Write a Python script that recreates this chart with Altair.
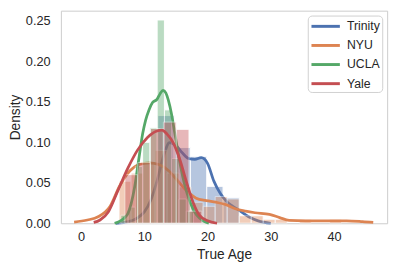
import altair as alt
import pandas as pd

groups = ["Trinity", "NYU", "UCLA", "Yale"]
colors = ["#4C72B0", "#DD8452", "#55A868", "#C44E52"]

# Histogram bins (start, end, density)
trinity_start = [12.13, 14.71, 17.29, 19.87, 22.45]
trinity_end = [14.71, 17.29, 19.87, 22.45, 25.03]
trinity_dens = [0.133, 0.0935, 0.0826, 0.0456, 0.0314]

nyu_start = [6.0, 7.9, 9.8, 11.7, 13.6, 15.5, 17.4, 19.3, 21.2, 23.1, 25.0, 26.9, 28.8, 30.7, 34.5, 39.3]
nyu_end = [7.9, 9.8, 11.7, 13.6, 15.5, 17.4, 19.3, 21.2, 23.1, 25.0, 26.9, 28.8, 30.7, 32.6, 36.4, 41.2]
nyu_dens = [0.052, 0.062, 0.075, 0.09, 0.062, 0.045, 0.026, 0.021, 0.033, 0.030, 0.0093, 0.0093, 0.005, 0.005, 0.005, 0.005]

ucla_start = [6.28, 7.43, 8.58, 9.73, 10.88, 12.03, 13.18, 14.33, 15.48, 16.63]
ucla_end = [7.43, 8.58, 9.73, 10.88, 12.03, 13.18, 14.33, 15.48, 16.63, 17.78]
ucla_dens = [0.01, 0.02, 0.07, 0.10, 0.118, 0.251, 0.14, 0.08, 0.03, 0.015]

yale_start = [6.92, 8.95, 10.98, 13.01, 15.04, 17.07]
yale_end = [8.95, 10.98, 13.01, 15.04, 17.07, 19.10]
yale_dens = [0.06, 0.075, 0.117, 0.125, 0.116, 0.015]

# KDE curves
trinity_kx = [5.5, 7.5, 9.0, 10.0, 11.0, 12.0, 13.0, 14.0, 15.0, 16.0, 17.0, 18.0, 19.0, 20.0, 21.0, 22.0, 23.0, 24.0, 25.0, 26.5, 28.0, 30.0]
trinity_ky = [0.000, 0.002, 0.007, 0.014, 0.028, 0.052, 0.082, 0.0995, 0.096, 0.087, 0.080, 0.079, 0.081, 0.074, 0.052, 0.037, 0.027, 0.021, 0.016, 0.008, 0.003, 0.000]

nyu_kx = [-1.1, 1.0, 2.7, 4.6, 6.1, 7.7, 9.2, 10.8, 12.3, 13.9, 15.1, 16.7, 18.2, 19.8, 21.3, 22.9, 24.4, 26.0, 27.5, 29.8, 31.4, 32.9, 35.5, 39.0, 42.0, 44.5, 46.2]
nyu_ky = [0.0015, 0.004, 0.008, 0.021, 0.046, 0.0645, 0.0726, 0.0746, 0.0726, 0.0645, 0.054, 0.040, 0.031, 0.028, 0.026, 0.023, 0.018, 0.015, 0.013, 0.011, 0.007, 0.0036, 0.003, 0.003, 0.003, 0.002, 0.001]

ucla_kx = [5.3, 6.9, 7.4, 8.5, 9.2, 9.75, 10.2, 10.74, 11.3, 12.0, 12.5, 12.96, 13.4, 13.8, 14.3, 14.8, 15.3, 15.8, 16.3, 16.8, 17.3, 17.8, 18.3, 19.3, 20.2]
ucla_ky = [0.000, 0.007, 0.012, 0.046, 0.083, 0.111, 0.127, 0.140, 0.149, 0.153, 0.160, 0.164, 0.161, 0.152, 0.135, 0.112, 0.089, 0.068, 0.050, 0.036, 0.025, 0.016, 0.010, 0.003, 0.000]

yale_kx = [2.0, 3.0, 4.3, 5.8, 7.4, 8.9, 10.5, 12.0, 12.8, 13.6, 14.6, 15.6, 16.7, 17.7, 18.7, 20.0, 21.5]
yale_ky = [0.001, 0.004, 0.014, 0.040, 0.068, 0.090, 0.106, 0.114, 0.115, 0.110, 0.099, 0.079, 0.050, 0.026, 0.010, 0.003, 0.000]

hist_sets = [(trinity_start, trinity_end, trinity_dens), (nyu_start, nyu_end, nyu_dens),
             (ucla_start, ucla_end, ucla_dens), (yale_start, yale_end, yale_dens)]
kde_sets = [(trinity_kx, trinity_ky), (nyu_kx, nyu_ky), (ucla_kx, ucla_ky), (yale_kx, yale_ky)]

xscale = alt.Scale(domain=[-3.19, 48.4], nice=False, zero=False)
yscale = alt.Scale(domain=[0, 0.2625], nice=False)
xaxis = alt.Axis(values=[0, 10, 20, 30, 40], title="True Age", labelPadding=8, titlePadding=4)
yaxis = alt.Axis(values=[0, 0.05, 0.10, 0.15, 0.20, 0.25], format=".2f", title="Density",
                 labelPadding=11, titlePadding=3)
cscale = alt.Scale(domain=groups, range=colors)

layers = []
for g, c, (s, e, d), (kx, ky) in zip(groups, colors, hist_sets, kde_sets):
    hdf = pd.DataFrame({"start": s, "end": e, "density": d, "group": g})
    kdf = pd.DataFrame({"x": kx, "y": ky, "group": g})
    bars = alt.Chart(hdf).mark_rect(fill=c, opacity=0.4, stroke="white", strokeWidth=1).encode(
        x=alt.X("start:Q", scale=xscale, axis=xaxis),
        x2="end:Q",
        y=alt.Y("density:Q", scale=yscale, axis=yaxis),
        y2=alt.datum(0),
    )
    line = alt.Chart(kdf).mark_line(strokeWidth=2.8, interpolate="monotone").encode(
        x=alt.X("x:Q", scale=xscale, axis=xaxis),
        y=alt.Y("y:Q", scale=yscale, axis=yaxis),
        color=alt.Color("group:N", scale=cscale, sort=groups,
                        legend=alt.Legend(title=None, orient="top-right")),
    )
    layers += [bars, line]

chart = alt.layer(*layers).properties(
    width=333, height=217,
    autosize=alt.AutoSizeParams(type="none"),
    padding={"left": 54, "top": 0, "right": 7, "bottom": 46},
).configure_view(
    stroke="#cccccc", strokeWidth=1
).configure_axis(
    ticks=False, domain=False, grid=False,
    labelFont="Liberation Sans", titleFont="Liberation Sans",
    labelFontSize=13, titleFontSize=14, titleFontWeight="normal",
    labelColor="#262626", titleColor="#262626",
).configure_legend(
    labelFont="Liberation Sans", labelFontSize=12.5, labelColor="#262626",
    symbolType="M-1,0H3", symbolStrokeWidth=3, symbolSize=210,
    strokeColor="#d0d0d0", fillColor="white", cornerRadius=4,
    padding=2, offset=5, rowPadding=3.5, columnPadding=0, labelOffset=20,
)

chart.save("out.html", embed_options={"renderer": "svg", "actions": False})
